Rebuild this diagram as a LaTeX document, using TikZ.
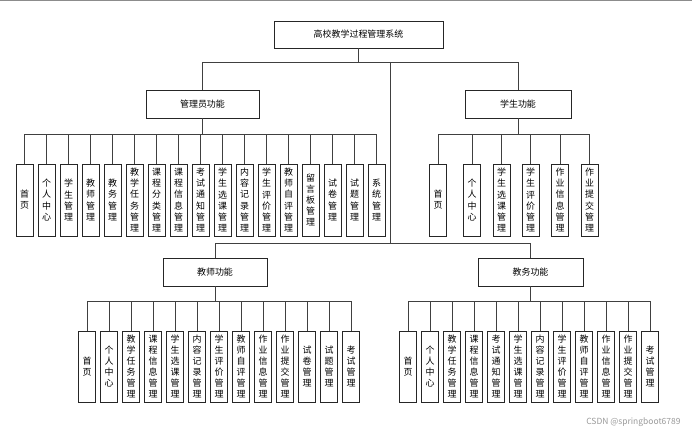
\documentclass[tikz,border=0pt]{standalone}
\usepackage{fontspec}
\setmainfont{Noto Sans CJK SC}
\usetikzlibrary{positioning}

\begin{document}
\begin{tikzpicture}[x=1bp, y=-1bp]
  \tikzset{
    group/.style={draw=black!85, line width=0.9bp, minimum height=28bp, inner sep=0pt, font=\fontsize{9}{11}\selectfont},
    leaf/.style={draw=black!85, line width=0.9bp, minimum width=17bp, minimum height=72bp, inner sep=0pt, align=center, font=\fontsize{9}{11.2}\selectfont},
    link/.style={draw=black!75, line width=0.9bp},
  }
  \useasboundingbox (0,0) rectangle (692,436);
  \draw[black!45, line width=1.5bp] (0,0.75) -- (692,0.75);

  % upper levels
  \node[group, minimum width=169bp, minimum height=27bp] (root) at (358.5,34.5) {高校教学过程管理系统};
  \node[group, minimum width=113bp] (admin) at (202.5,104) {管理员功能};
  \node[group, minimum width=106bp] (student) at (518,104) {学生功能};
  \node[group, minimum width=104bp] (teacher) at (215,272) {教师功能};
  \node[group, minimum width=105bp] (affairs) at (530.5,272) {教务功能};

  \coordinate (midbus) at (390,62);
  \coordinate (lowbus) at (390,243);

  \draw[link] (root.south) -- ++(0,14) -| (admin.north);
  \draw[link] (root.south) -- ++(0,14) -| (student.north);
  \draw[link] (midbus) -- (lowbus) -| (teacher.north);
  \draw[link] (lowbus) -| (affairs.north);

  % admin
  \foreach \txt [count=\i from 0] in {首\\页, 个\\人\\中\\心, 学\\生\\管\\理, 教\\师\\管\\理, 教\\务\\管\\理,
      教\\学\\任\\务\\管\\理, 课\\程\\分\\类\\管\\理, 课\\程\\信\\息\\管\\理, 考\\试\\通\\知\\管\\理,
      学\\生\\选\\课\\管\\理, 内\\容\\记\\录\\管\\理, 学\\生\\评\\价\\管\\理, 教\\师\\自\\评\\管\\理,
      留\\言\\板\\管\\理, 试\\卷\\管\\理, 试\\题\\管\\理, 系\\统\\管\\理} {
    \node[leaf] (adm\i) at (24.5+22*\i,200) {\txt};
    \draw[link] (admin.south) -- ++(0,16) -| (adm\i.north);
  }

  % student
  \foreach \x/\txt [count=\i] in {438/首\\页, 472/个\\人\\中\\心, 501.5/学\\生\\选\\课\\管\\理,
      530.5/学\\生\\评\\价\\管\\理, 560/作\\业\\信\\息\\管\\理, 589.5/作\\业\\提\\交\\管\\理} {
    \node[leaf] (stu\i) at (\x,200) {\txt};
    \draw[link] (student.south) -- ++(0,16) -| (stu\i.north);
  }

  % teacher
  \foreach \txt [count=\i from 0] in {首\\页, 个\\人\\中\\心, 教\\学\\任\\务\\管\\理, 课\\程\\信\\息\\管\\理,
      学\\生\\选\\课\\管\\理, 内\\容\\记\\录\\管\\理, 学\\生\\评\\价\\管\\理, 教\\师\\自\\评\\管\\理,
      作\\业\\信\\息\\管\\理, 作\\业\\提\\交\\管\\理, 试\\卷\\管\\理, 试\\题\\管\\理, 考\\试\\管\\理} {
    \node[leaf, minimum height=71bp] (tea\i) at (87+22*\i,366.5) {\txt};
    \draw[link] (teacher.south) -- ++(0,15) -| (tea\i.north);
  }

  % affairs
  \foreach \txt [count=\i from 0] in {首\\页, 个\\人\\中\\心, 教\\学\\任\\务\\管\\理, 课\\程\\信\\息\\管\\理,
      考\\试\\通\\知\\管\\理, 学\\生\\选\\课\\管\\理, 内\\容\\记\\录\\管\\理, 学\\生\\评\\价\\管\\理,
      教\\师\\自\\评\\管\\理, 作\\业\\信\\息\\管\\理, 作\\业\\提\\交\\管\\理, 考\\试\\管\\理} {
    \node[leaf, minimum height=71bp] (aff\i) at (408+22*\i,366.5) {\txt};
    \draw[link] (affairs.south) -- ++(0,15) -| (aff\i.north);
  }

  \node[text=black!40, font=\fontsize{8.5}{10}\selectfont, anchor=east] (mark) at (684,422) {CSDN @springboot6789};

\end{tikzpicture}
\end{document}
